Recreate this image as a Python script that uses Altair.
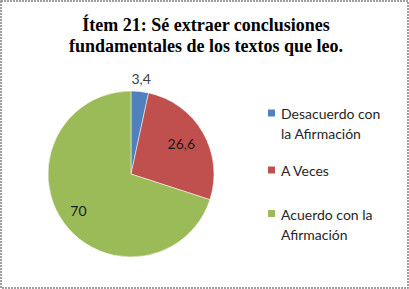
import altair as alt
import pandas as pd

categories = ["Desacuerdo con la Afirmación", "A Veces", "Acuerdo con la Afirmación"]
legend_lines = [["Desacuerdo con", "la Afirmación"], ["A Veces"], ["Acuerdo con la", "Afirmación"]]
values = [3.4, 26.6, 70]
labels = ["3,4", "26,6", "70"]
colors = ["#4F81BD", "#C0504D", "#9BBB59"]
title_lines = ["Ítem 21: Sé extraer conclusiones", "fundamentales de los textos que leo."]

df = pd.DataFrame({"cat": categories, "val": values, "lab": labels, "ord": [0, 1, 2],
                   "lines": legend_lines})

cx, cy = 130, 173

color = alt.Color("cat:N", scale=alt.Scale(domain=categories, range=colors), legend=None)
theta_scale = alt.Scale(domain=[0, 100])

pie = alt.Chart(df).mark_arc(radius=83, stroke="white", strokeWidth=0.5).encode(
    theta=alt.Theta("val:Q", stack=True, scale=theta_scale),
    order=alt.Order("ord:Q"),
    color=color, x=alt.value(cx), y=alt.value(cy),
)

pie_labels = alt.Chart(df).transform_window(
    cum="sum(val)", sort=[alt.SortField("ord")], frame=[None, 0]
).transform_calculate(
    mid="datum.cum - datum.val / 2",
    lr="datum.ord == 0 ? 95 : (datum.ord == 1 ? 58 : 65)",
    lc="datum.ord == 0 ? '#404040' : '#1a1a1a'",
).mark_text(font="Lato", fontSize=14, baseline="middle").encode(
    theta=alt.Theta("mid:Q", stack=None, scale=theta_scale),
    text="lab:N",
    x=alt.value(cx), y=alt.value(cy),
    radius=alt.Radius("lr:Q", scale=None),
    color=alt.Color("lc:N", scale=None),
)

# legend (guide) built from the same category / colour arrays
leg_y = alt.Y("ord:Q", scale=alt.Scale(domain=[0, 1, 2], range=[112, 169, 212.5]), axis=None)
leg_sym = alt.Chart(df).mark_square(size=49, opacity=1, filled=True).encode(
    x=alt.value(270.5), y=leg_y, color=color
)
leg_txt = alt.Chart(df).mark_text(
    font="Lato", fontSize=14, color="#262626", align="left", baseline="alphabetic",
    dy=6, lineHeight=20,
).encode(x=alt.value(280), y=leg_y, text="lines:N")

title = alt.Chart(pd.DataFrame({"i": [0]})).mark_text(
    font="Liberation Serif", fontSize=18, fontWeight="bold", color="#000000",
    lineHeight=21, baseline="alphabetic", align="center",
).encode(x=alt.value(205), y=alt.value(30), text=alt.value(title_lines))

chart = alt.layer(pie, pie_labels, leg_sym, leg_txt, title).properties(
    width=407, height=287,
    padding=1,
    autosize=alt.AutoSizeParams(type="none"),
    background="white",
).configure_view(
    stroke="#808080", strokeWidth=1.5, strokeDash=[2, 1]
)

chart.save("out.html", embed_options={"renderer": "svg", "actions": False})
